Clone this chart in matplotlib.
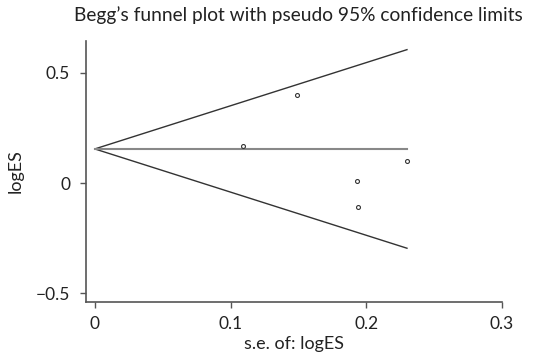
import numpy as np
import matplotlib.pyplot as plt

# study estimates
se = [0.109, 0.149, 0.193, 0.194, 0.230]
log_es = [0.170, 0.400, 0.008, -0.107, 0.100]
pooled = 0.155

xticks = [0, 0.1, 0.2, 0.3]
xtick_labels = ["0", "0.1", "0.2", "0.3"]
yticks = [-0.5, 0, 0.5]
ytick_labels = ["\u22120.5", "0", "0.5"]

plt.rcParams['font.family'] = ['Lato', 'DejaVu Sans']

fig = plt.figure(figsize=(5.35, 3.62), dpi=100)
ax = fig.add_axes([0.1607, 0.1657, 0.7776, 0.7210])

# pseudo 95% limits
s = np.array([0, max(se)])
ax.plot(s, pooled + 1.96 * s, color='#333333', lw=1.0)
ax.plot(s, pooled - 1.96 * s, color='#333333', lw=1.0)
ax.plot(s, [pooled, pooled], color='#888888', lw=1.5)

ax.scatter(se, log_es, s=8, facecolors='white', edgecolors='#333333', linewidths=0.8, zorder=3)

ax.set_xlim(-0.0065, 0.3)
ax.set_ylim(-0.54, 0.645)
ax.set_xticks(xticks, xtick_labels)
ax.set_yticks(yticks, ytick_labels)
ax.tick_params(colors='#555555', labelcolor='#222222', labelsize=12.5, length=4, width=1.0)
ax.tick_params(axis='x', pad=6)
ax.tick_params(axis='y', pad=7.5)
for side in ['top', 'right']:
    ax.spines[side].set_visible(False)
for side in ['left', 'bottom']:
    ax.spines[side].set_color('#555555')
    ax.spines[side].set_linewidth(1.2)

ax.set_xlabel("s.e. of: logES", fontsize=13, color='#222222', labelpad=3)
ax.set_ylabel("logES", fontsize=13, color='#222222', labelpad=9)
fig.text(0.557, 0.958, "Begg\u2019s funnel plot with pseudo 95% confidence limits",
         ha='center', va='center', fontsize=13.8, color='#222222')

fig.savefig("out.png", dpi=100)
